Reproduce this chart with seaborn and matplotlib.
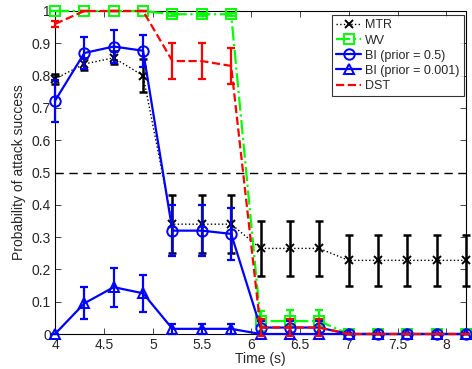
import matplotlib
matplotlib.use("Agg")
import matplotlib.pyplot as plt
import seaborn as sns
import numpy as np

# --- data ---
time_s = [4.0, 4.3, 4.6, 4.9, 5.2, 5.5, 5.8, 6.1, 6.4, 6.7, 7.0, 7.3, 7.6, 7.9, 8.2]

mtr = [0.79, 0.836, 0.855, 0.80, 0.34, 0.34, 0.34, 0.265, 0.265, 0.265,
       0.228, 0.228, 0.228, 0.228, 0.228]
mtr_err = [0.015, 0.02, 0.02, 0.05, 0.09, 0.09, 0.09, 0.085, 0.085, 0.085,
           0.08, 0.08, 0.08, 0.08, 0.08]

wv = [1.0, 1.0, 1.0, 1.0, 0.99, 0.99, 0.99, 0.04, 0.04, 0.04,
      0.0, 0.0, 0.0, 0.0, 0.0]
wv_err = [0, 0, 0, 0, 0.005, 0.005, 0.005, 0.03, 0.035, 0.035,
          0, 0, 0, 0, 0]

bi_05 = [0.722, 0.87, 0.89, 0.877, 0.32, 0.32, 0.31, 0.02, 0.02, 0.02,
         0.0, 0.0, 0.0, 0.0, 0.0]
bi_05_err = [0.065, 0.05, 0.05, 0.05, 0.08, 0.08, 0.08, 0.02, 0.02, 0.02,
             0, 0, 0, 0, 0]

bi_0001 = [0.0, 0.095, 0.145, 0.126, 0.016, 0.016, 0.016, 0.0, 0.0, 0.0,
           0.0, 0.0, 0.0, 0.0, 0.0]
bi_0001_err = [0, 0.05, 0.06, 0.057, 0.015, 0.015, 0.015, 0, 0, 0,
               0, 0, 0, 0, 0]

dst = [0.96, 1.0, 1.0, 1.0, 0.845, 0.845, 0.83, 0.02, 0.02, 0.02,
       0.0, 0.0, 0.0, 0.0, 0.0]
dst_err = [0.01, 0, 0, 0, 0.055, 0.055, 0.055, 0.025, 0.025, 0.025,
           0, 0, 0, 0, 0]

threshold = 0.5

sns.set_style("ticks")
plt.rcParams['font.family'] = ['Liberation Sans', 'DejaVu Sans']
plt.rcParams['font.size'] = 10

fig = plt.figure(figsize=(4.72, 3.69), dpi=100)
ax = fig.add_axes([55 / 472, 35 / 369, 411 / 472, 323 / 369])

series = [
    ("MTR", mtr, mtr_err, "#000000", ":", "x", 1.0, 1.8),
    ("WV", wv, wv_err, "#00ff00", "-.", "s", 1.6, 1.6),
    ("BI (prior = 0.5)", bi_05, bi_05_err, "#0000ff", "-", "o", 1.6, 1.6),
    ("BI (prior = 0.001)", bi_0001, bi_0001_err, "#0000ff", "-", "^", 1.6, 1.6),
    ("DST", dst, dst_err, "#ff0000", "--", None, 1.6, 1.6),
]

ax.axhline(threshold, color="black", linestyle=(0, (6, 4)), linewidth=1.0, zorder=1)

for i, (name, vals, err, col, ls, mk, lw, elw) in enumerate(series):
    ax.errorbar(time_s, vals, yerr=err, fmt="none", ecolor=col,
                elinewidth=elw, capsize=3, capthick=elw, zorder=2 + i,
                clip_on=False)
    kw = dict(marker=mk, markersize=7.5 if mk != "x" else 5.5,
              markerfacecolor="none", markeredgecolor=col,
              markeredgewidth=1.4) if mk else {}
    sns.lineplot(x=time_s, y=vals, ax=ax, color=col, linestyle=ls,
                 linewidth=lw, label=name, zorder=2 + i, clip_on=False, **kw)

ax.set_xlim(4, 8.2)
ax.set_ylim(0, 1)
ax.set_xticks([4, 4.5, 5, 5.5, 6, 6.5, 7, 7.5, 8])
ax.set_xticklabels(["4", "4.5", "5", "5.5", "6", "6.5", "7", "7.5", "8"])
ax.set_yticks(np.arange(0, 1.01, 0.1))
ax.set_yticklabels(["0", "0.1", "0.2", "0.3", "0.4", "0.5", "0.6",
                    "0.7", "0.8", "0.9", "1"])
ax.tick_params(direction="in", top=True, right=True, length=4,
               width=0.6, labelsize=10, pad=3)
for s in ax.spines.values():
    s.set_linewidth(0.8)
    s.set_color("black")

ax.set_xlabel("Time (s)", fontsize=10, labelpad=0)
ax.set_ylabel("Probability of attack success", fontsize=10, labelpad=4)

leg = ax.legend(loc="upper right", bbox_to_anchor=(1.0, 0.995),
                fontsize=9, frameon=True, fancybox=False, handlelength=2.0,
                borderpad=0.35, labelspacing=0.25, handletextpad=0.3,
                borderaxespad=0.2)
leg.get_frame().set_edgecolor("black")
leg.get_frame().set_linewidth(0.8)
leg.set_zorder(20)

fig.savefig("out.png", dpi=100)
